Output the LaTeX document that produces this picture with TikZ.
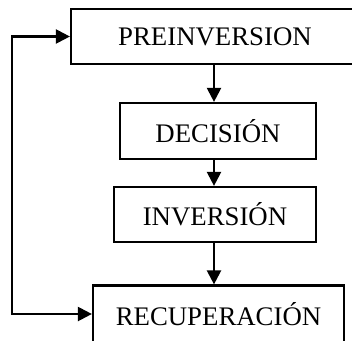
\documentclass[tikz,border=0pt]{standalone}
\usepackage{fontspec}
\setmainfont{Liberation Serif}
\usetikzlibrary{arrows.meta}
\begin{document}
\begin{tikzpicture}[x=1pt,y=-1pt,
  stage/.style={draw=black, line width=2.2pt, inner sep=0pt,
    font=\fontsize{26.8}{30}\selectfont},
  flow/.style={line width=2.2pt, -{Triangle[length=14pt,width=14pt]}},
  loopflow/.style={line width=2.2pt, {Triangle[length=14pt,width=14pt]}-{Triangle[length=14pt,width=14pt]}}]
  \clip (0,0) rectangle (352,340);
  \fill[white] (0,0) rectangle (352,340);

  % process stages
  \node[stage, minimum width=288pt, minimum height=55pt] (pre) at (215,36.5) {PREINVERSION};
  \node[stage, minimum width=196pt, minimum height=56pt] (dec) at (218,131) {DECISIÓN};
  \node[stage, minimum width=202pt, minimum height=55pt] (inv) at (215,214.5) {INVERSIÓN};
  \node[stage, minimum width=251pt, minimum height=57pt] (rec) at (218.5,314) {RECUPERACIÓN};

  % axes for the connectors
  \coordinate (axis) at (214,0);
  \coordinate (loopx) at (12,0);

  % main sequence
  \draw[flow] (pre.south -| axis) -- (dec.north -| axis);
  \draw[flow] (dec.south -| axis) -- (inv.north -| axis);
  \draw[flow] (inv.south -| axis) -- (rec.north -| axis);

  % feedback loop on the left
  \draw[loopflow] (pre.west) -- (pre.west -| loopx) -- (rec.west -| loopx) -- (rec.west);
\end{tikzpicture}
\end{document}
